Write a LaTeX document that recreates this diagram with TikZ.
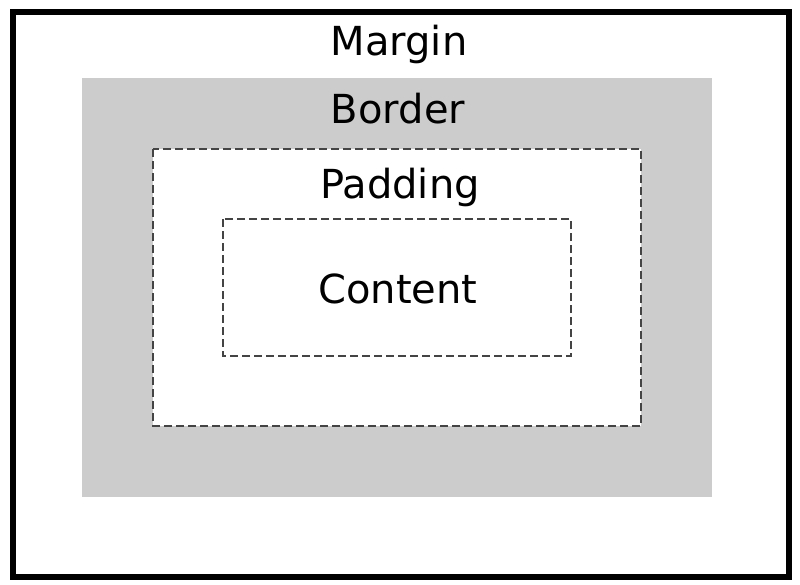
\documentclass[tikz,border=0pt]{standalone}
\usepackage{fontspec}
\setmainfont{DejaVu Sans}
\definecolor{bordergray}{RGB}{204,204,204}
\definecolor{dashgray}{RGB}{68,68,68}
\tikzset{
  boxlabel/.style={anchor=base,inner sep=0.75pt,font=\fontsize{30}{36}\selectfont},
  dashbox/.style={draw=dashgray,line width=1.1pt,dash pattern=on 6pt off 3pt}
}
\begin{document}
\begin{tikzpicture}[x=0.75pt,y=0.75pt,yscale=-1,xscale=1]
        \useasboundingbox (0,0) rectangle (800,585);
        %Shape: Rectangle [margin]
        \draw [line width=4.5pt]  (13,12.5) rectangle (788.5,576.5) ;
        %Shape: Rectangle [border]
        \fill [bordergray]  (82,78) rectangle (712,497) ;
        %Shape: Rectangle [padding]
        \fill [white]  (153,149) rectangle (641,426) ;
        \draw [dashbox]  (153,149) rectangle (641,426) ;
        %Shape: Rectangle [content]
        \draw [dashbox]  (223,219) rectangle (571,356) ;
        % Text Node
        \node (margin) [boxlabel] at (399,56) {Margin};
        % Text Node
        \node (border) [boxlabel] at (398,123) {Border};
        % Text Node
        \node (padding) [boxlabel] at (400,198) {Padding};
        % Text Node
        \node (content) [boxlabel] at (398,303) {Content};
\end{tikzpicture}
\end{document}
